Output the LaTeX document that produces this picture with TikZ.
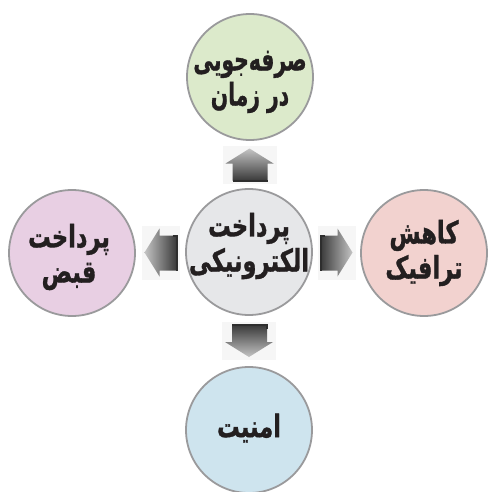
\documentclass[tikz,border=0pt]{standalone}
\usepackage{fontspec}
\usetikzlibrary{calc}
\newfontfamily\fa[Script=Arabic, BoldFeatures={FakeBold=1.2}]{DejaVu Sans}
\TeXXeTstate=1
\definecolor{ringgray}{HTML}{9A9A9C}
\definecolor{cgreen}{HTML}{DCEACB}
\definecolor{cgray}{HTML}{E6E7E9}
\definecolor{cpink}{HTML}{E8CFE3}
\definecolor{crose}{HTML}{F2D2CF}
\definecolor{cblue}{HTML}{CEE4EE}
\definecolor{txt}{HTML}{231F20}
\definecolor{arlight}{HTML}{C4C4C4}
\definecolor{ardark}{HTML}{3A3A3A}
\definecolor{arbg}{HTML}{F6F6F6}
\tikzset{
  bubble/.style={circle, draw=ringgray, line width=1.8pt, minimum size=126pt, inner sep=0pt,
    fill=#1},
  label text/.style={text=txt, align=center, font=\fa\bfseries\fontsize{23}{26}\selectfont,
    inner sep=0pt, xscale=0.98, yscale=1.35, transform shape},
  arrowbg/.style={fill=arbg, draw=none},
  arrowbase/.style={draw=ardark!80!black, line width=2pt},
}
\begin{document}
\begin{tikzpicture}[x=1pt,y=-1pt]
\useasboundingbox (0,0) rectangle (488,492);
% circles
\node[bubble=cgray]  (c) at (249,252) {};
\node[bubble=cgreen] (t) at (250,77)  {};
\node[bubble=cpink]  (l) at (72,253)  {};
\node[bubble=crose]  (r) at (424,253) {};
\node[bubble=cblue]  (b) at (249,430) {};
% texts
\node[label text] (ct) at ($(c)+(0,-6)$) {\beginR پرداخت\endR\\\beginR الکترونیکی\endR};
\node[label text, xscale=0.9] (tt) at ($(t)+(0,5)$) {\beginR صرفه‌جویی\endR\\\beginR در زمان\endR};
\node[label text] (lt) at ($(l)+(-3,4)$) {\beginR پرداخت\endR\\\beginR قبض\endR};
\node[label text] (rt) at ($(r)+(0,0)$) {\beginR کاهش\endR\\\beginR ترافیک\endR};
\node[label text] (bt) at ($(b)+(0,-2)$) {\beginR امنیت\endR};
% arrow anchor points
\coordinate (ta) at ($(c.north)!0.5!(t.south)$);
\coordinate (ba) at ($(c.south)!0.5!(b.north)$);
\coordinate (la) at ($(c.west)!0.5!(l.east)$);
\coordinate (ra) at ($(c.east)!0.5!(r.west)$);
% up arrow
\begin{scope}[shift={(ta)}]
  \fill[arrowbg] (-27,-19) rectangle (27,19);
  \shade[top color=arlight, bottom color=ardark] (0,-16) -- (24,-1) -- (18,-1) -- (18,16) -- (-17,16) -- (-17,-1) -- (-24,-1) -- cycle;
  \draw[arrowbase] (-17,16) -- (18,16);
\end{scope}
% down arrow
\begin{scope}[shift={(ba)}]
  \fill[arrowbg] (-27,-19) rectangle (27,19);
  \shade[top color=ardark, bottom color=arlight] (0,16) -- (24,1) -- (18,1) -- (18,-16) -- (-17,-16) -- (-17,1) -- (-24,1) -- cycle;
  \draw[arrowbase] (-17,-16) -- (18,-16) -- (18,-12);
\end{scope}
% left arrow
\begin{scope}[shift={(la)}]
  \fill[arrowbg] (-19,-27) rectangle (19,27);
  \shade[left color=arlight, right color=ardark] (-16,0) -- (-1,-24) -- (-1,-17) -- (16,-17) -- (16,18) -- (-1,18) -- (-1,24) -- cycle;
  \draw[arrowbase] (12,-17) -- (16,-17) -- (16,18);
\end{scope}
% right arrow
\begin{scope}[shift={(ra)}]
  \fill[arrowbg] (-19,-27) rectangle (19,27);
  \shade[left color=ardark, right color=arlight] (16,0) -- (1,-24) -- (1,-17) -- (-16,-17) -- (-16,18) -- (1,18) -- (1,24) -- cycle;
  \draw[arrowbase] (-12,-17) -- (-16,-17) -- (-16,18);
\end{scope}
\end{tikzpicture}
\end{document}
